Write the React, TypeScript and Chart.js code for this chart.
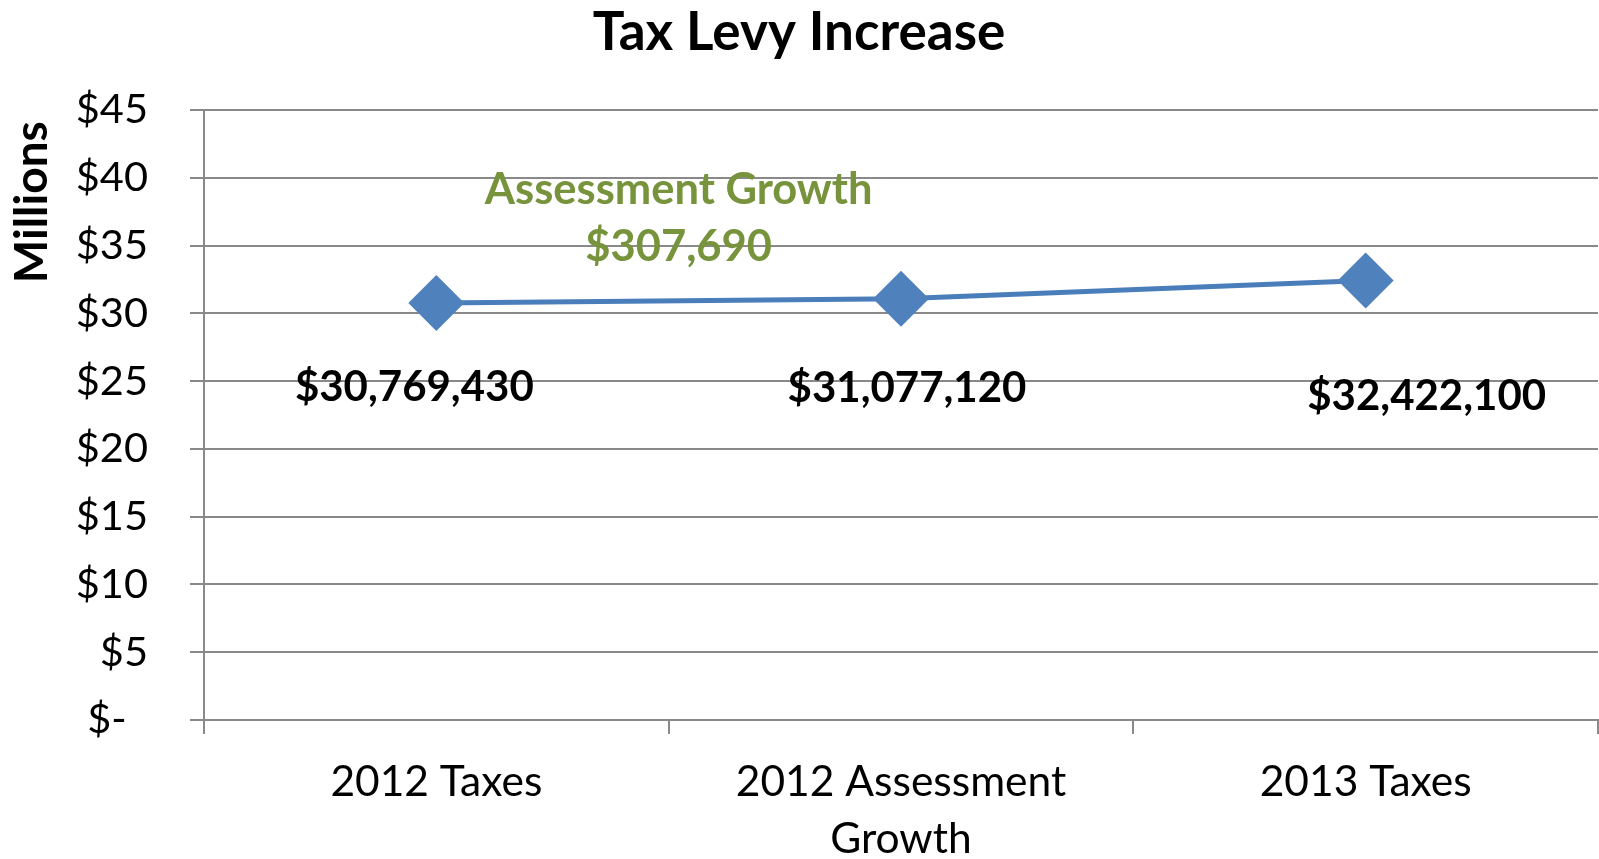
import React, { useEffect, useRef } from 'react';
import { Chart, registerables } from 'chart.js';

Chart.register(...registerables);

// ---- data ----
const categories: (string | string[])[] = ['2012 Taxes', ['2012 Assessment', 'Growth'], '2013 Taxes'];
const levyValues: number[] = [30769430, 31077120, 32422100];
const yMin = 0;
const yMax = 45000000;
const yStep = 5000000;
const chartTitle = 'Tax Levy Increase';
const yAxisTitle = 'Millions ';
const growthTitle = 'Assessment Growth';

// ---- styling ----
const FONT = 'Lato';
const GRID = '#898989';
const LINE = '#4A7EBB';
const MARKER = '#4F81BD';
const GREEN = '#77933C';
const labelOffsets: [number, number][] = [
  [-22, 98],
  [6, 103],
  [61, 129],
];

const fmtMoney = (v: number) => '$' + v.toLocaleString('en-US');

const labelPlugin = {
  id: 'levyLabels',
  afterDatasetsDraw(chart: any) {
    const ctx = chart.ctx as CanvasRenderingContext2D;
    const meta = chart.getDatasetMeta(0);
    ctx.save();
    ctx.textAlign = 'center';
    ctx.textBaseline = 'alphabetic';
    ctx.fillStyle = '#000';
    ctx.font = `bold 42px ${FONT}`;
    meta.data.forEach((pt: any, i: number) => {
      const [dx, dy] = labelOffsets[i];
      ctx.fillText(fmtMoney(levyValues[i]), pt.x + dx, pt.y + dy);
    });
    const p0 = meta.data[0];
    const p1 = meta.data[1];
    const mx = (p0.x + p1.x) / 2 + 10;
    const my = (p0.y + p1.y) / 2;
    ctx.fillStyle = GREEN;
    ctx.font = `bold 43.5px ${FONT}`;
    ctx.fillText(growthTitle, mx, my - 97);
    ctx.fillText(fmtMoney(levyValues[1] - levyValues[0]), mx, my - 40);
    ctx.restore();
  },
};

export default function App() {
  const ref = useRef<HTMLCanvasElement>(null);

  useEffect(() => {
    let chart: Chart | null = null;
    let cancelled = false;
    const make = () => {
      if (cancelled || !ref.current) return;
      Chart.defaults.color = '#000';
      Chart.defaults.font.family = FONT;
      chart = new Chart(ref.current, {
        type: 'line',
        data: {
          labels: categories as any,
          datasets: [
            {
              data: levyValues,
              borderColor: LINE,
              borderWidth: 5,
              tension: 0,
              pointStyle: 'rectRot',
              pointRadius: 28,
              pointHoverRadius: 28,
              pointBackgroundColor: MARKER,
              pointBorderColor: MARKER,
              pointBorderWidth: 0,
              clip: false as any,
            },
          ],
        },
        options: {
          animation: false,
          responsive: false,
          devicePixelRatio: 1,
          layout: { autoPadding: false, padding: { left: 0, right: 1, top: 0, bottom: 0 } },
          plugins: {
            legend: { display: false },
            tooltip: { enabled: false },
            title: {
              display: true,
              text: chartTitle,
              color: '#000',
              font: { family: FONT, size: 53, weight: 'bold', lineHeight: 1.2 },
              padding: { top: 1, bottom: 45.4 },
            },
          },
          scales: {
            x: {
              type: 'category',
              offset: true,
              grid: {
                offset: true,
                drawOnChartArea: false,
                drawTicks: true,
                tickLength: 14,
                color: GRID,
                lineWidth: 2,
              },
              border: { display: true, color: GRID, width: 2 },
              ticks: {
                color: '#000',
                font: { family: FONT, size: 42.5, lineHeight: 1.34 },
                padding: 20,
                maxRotation: 0,
                autoSkip: false,
              },
              afterFit: (scale: any) => {
                scale.height = 139;
              },
            },
            y: {
              min: yMin,
              max: yMax,
              grid: {
                color: GRID,
                lineWidth: 2,
                drawTicks: true,
                tickLength: 14,
              },
              border: { display: true, color: GRID, width: 2 },
              ticks: {
                stepSize: yStep,
                color: '#000',
                font: { family: FONT, size: 41.5 },
                padding: 42,
                callback: (v: any) => (Number(v) === 0 ? '$-  ' : '$' + Number(v) / 1000000),
              },
              title: {
                display: true,
                text: yAxisTitle,
                align: 'end',
                color: '#000',
                font: { family: FONT, size: 46, weight: 'bold', lineHeight: 1.2 },
                padding: { top: 4.6, bottom: 0 },
              },
              afterFit: (scale: any) => {
                scale.width = 204;
              },
            },
          },
        },
        plugins: [labelPlugin],
      } as any);
    };
    Promise.all([
      document.fonts.load(`bold 50px ${FONT}`),
      document.fonts.load(`39px ${FONT}`),
    ])
      .catch(() => undefined)
      .then(make);
    return () => {
      cancelled = true;
      if (chart) chart.destroy();
    };
  }, []);

  return (
    <div style={{ position: 'fixed', left: 0, top: 0, width: 1599, height: 859, background: '#fff' }}>
      <canvas ref={ref} width={1599} height={859} style={{ display: 'block', width: 1599, height: 859 }} />
    </div>
  );
}
